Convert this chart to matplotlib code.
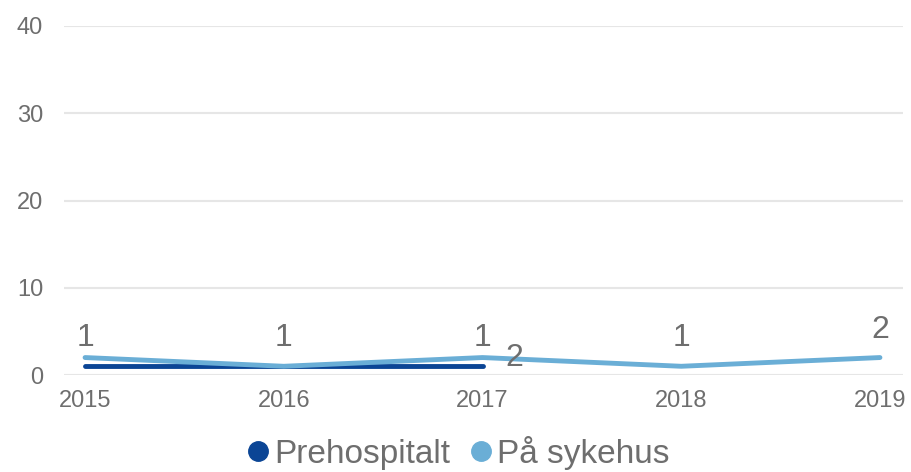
import matplotlib.pyplot as plt
from matplotlib.lines import Line2D

plt.rcParams['font.family'] = ['Liberation Sans', 'DejaVu Sans']

years = ['2015', '2016', '2017', '2018', '2019']
prehospitalt = [1, 1, 1]
pa_sykehus = [2, 1, 2, 1, 2]
yticks = [0, 10, 20, 30, 40]

# labels as shown in the chart: (index, text) / (index, text, placement)
labels_pre = [(0, '1'), (1, '1'), (2, '1')]
labels_syk = [(2, '2', 'right'), (3, '1', 'above'), (4, '2', 'above')]

dark = '#0b4595'
light = '#6aaed6'
grey = '#6e6e6e'

fig = plt.figure(figsize=(9.11, 4.72), dpi=100)
ax = fig.add_axes([64 / 911, 97 / 472, 839 / 911, 349 / 472])

x_pre = list(range(len(prehospitalt)))
x_syk = list(range(len(pa_sykehus)))
ax.plot(x_syk, pa_sykehus, color=light, lw=3.5, solid_capstyle='round', zorder=3)
ax.plot(x_pre, prehospitalt, color=dark, lw=3.5, solid_capstyle='round', zorder=2)

for i, t in labels_pre:
    ax.annotate(t, (x_pre[i], prehospitalt[i]), xytext=(0, 20), textcoords='offset points',
                ha='center', va='center', fontsize=23, color=grey)
for i, t, pos in labels_syk:
    off = (23, 0) if pos == 'right' else (0, 20)
    ax.annotate(t, (x_syk[i], pa_sykehus[i]), xytext=off, textcoords='offset points',
                ha='center', va='center', fontsize=23, color=grey)

ax.set_ylim(0, 40)
ax.set_xlim(-0.106, 4.116)
ax.set_yticks(yticks)
ax.set_xticks(x_syk)
ax.set_xticklabels(years)
ax.grid(axis='y', color='#e6e6e6', lw=1.5)
ax.set_axisbelow(True)
for s in ax.spines.values():
    s.set_visible(False)
ax.tick_params(axis='both', length=0, labelsize=17, labelcolor=grey)
ax.tick_params(axis='y', pad=15)
ax.tick_params(axis='x', pad=11)

handles = [Line2D([], [], ls='none', marker='o', ms=14, color=dark),
           Line2D([], [], ls='none', marker='o', ms=14, color=light)]
leg = fig.legend(handles, ['Prehospitalt', 'På sykehus'], loc='center',
                 bbox_to_anchor=(0.5, 19 / 472), ncol=2, frameon=False,
                 fontsize=24, handletextpad=0.0, columnspacing=0.4,
                 handlelength=1.0, borderpad=0.2)
for t in leg.get_texts():
    t.set_color(grey)

fig.savefig('out.png', dpi=100)
